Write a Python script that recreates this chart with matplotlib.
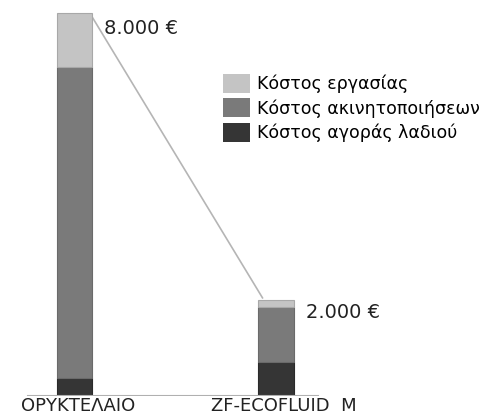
import matplotlib
matplotlib.use("Agg")
import matplotlib.pyplot as plt
from matplotlib.patches import Patch

categories = ["ΟΡΥΚΤΕΛΑΙΟ", "ZF-ECOFLUID  M"]
oil_cost = [375, 700]          # Κόστος αγοράς λαδιού
immob_cost = [6500, 1150]      # Κόστος ακινητοποιήσεων
labor_cost = [1125, 150]       # Κόστος εργασίας
total_labels = ["8.000 €", "2.000 €"]
legend_labels = ["Κόστος εργασίας", "Κόστος ακινητοποιήσεων", "Κόστος αγοράς λαδιού"]

c_light = "#c4c4c4"
c_mid = "#7a7a7a"
c_dark = "#353535"

plt.rcParams['font.family'] = ['DejaVu Sans']

fig = plt.figure(figsize=(4.99, 4.16), dpi=100)
ax = fig.add_axes([0, 20 / 416, 1, 396 / 416])

x = list(range(len(categories)))
w = 0.174
totals = [a + b + c for a, b, c in zip(oil_cost, immob_cost, labor_cost)]
bottom2 = [a + b for a, b in zip(oil_cost, immob_cost)]

ax.bar(x, oil_cost, width=w, color=c_dark, edgecolor="#2a2a2a", linewidth=0.8, zorder=3)
ax.bar(x, immob_cost, width=w, bottom=oil_cost, color=c_mid, edgecolor="#6a6a6a", linewidth=0.8, zorder=3)
ax.bar(x, labor_cost, width=w, bottom=bottom2, color=c_light, edgecolor="#a8a8a8", linewidth=0.8, zorder=3)

# connecting line between totals
ax.plot([x[0] + w / 2, x[1] - w / 2 + 0.02], [totals[0] - 80, totals[1] + 50],
        color="#b5b5b5", linewidth=1.2, zorder=2)

offsets = [-330, -250]
for xi, t, lab, off in zip(x, totals, total_labels, offsets):
    ax.text(xi + w / 2 + 0.06, t + off, lab, fontsize=14, color="#222222",
            va="center", ha="left")

ax.set_xlim(-0.37, 2.107)
ax.set_ylim(0, 8000 * 396 / 383)
ax.axhline(0, xmin=28 / 499, xmax=318 / 499, color="#b0b0b0", linewidth=1.5, zorder=4)

# category labels, sitting at the bottom edge of the figure
for xi, cat in zip(x, categories):
    xpos = ax.transData.transform((xi + (0.02 if xi == 0 else 0.04), 0))[0]
    fig.text(xpos / fig.bbox.width, 1 / 416, cat, fontsize=13, color="#222222",
             ha="center", va="bottom")

for s in ax.spines.values():
    s.set_visible(False)
ax.set_xticks([])
ax.set_yticks([])

handles = [Patch(facecolor=c, edgecolor="none") for c in (c_light, c_mid, c_dark)]
fig.legend(handles, legend_labels, loc="upper left", bbox_to_anchor=(221 / 499, 1 - 72 / 416),
           frameon=False, fontsize=12.5, handlelength=1.55, handleheight=1.3,
           handletextpad=0.4, labelspacing=0.3, borderaxespad=0, borderpad=0.1)

fig.savefig("out.png", dpi=100)
